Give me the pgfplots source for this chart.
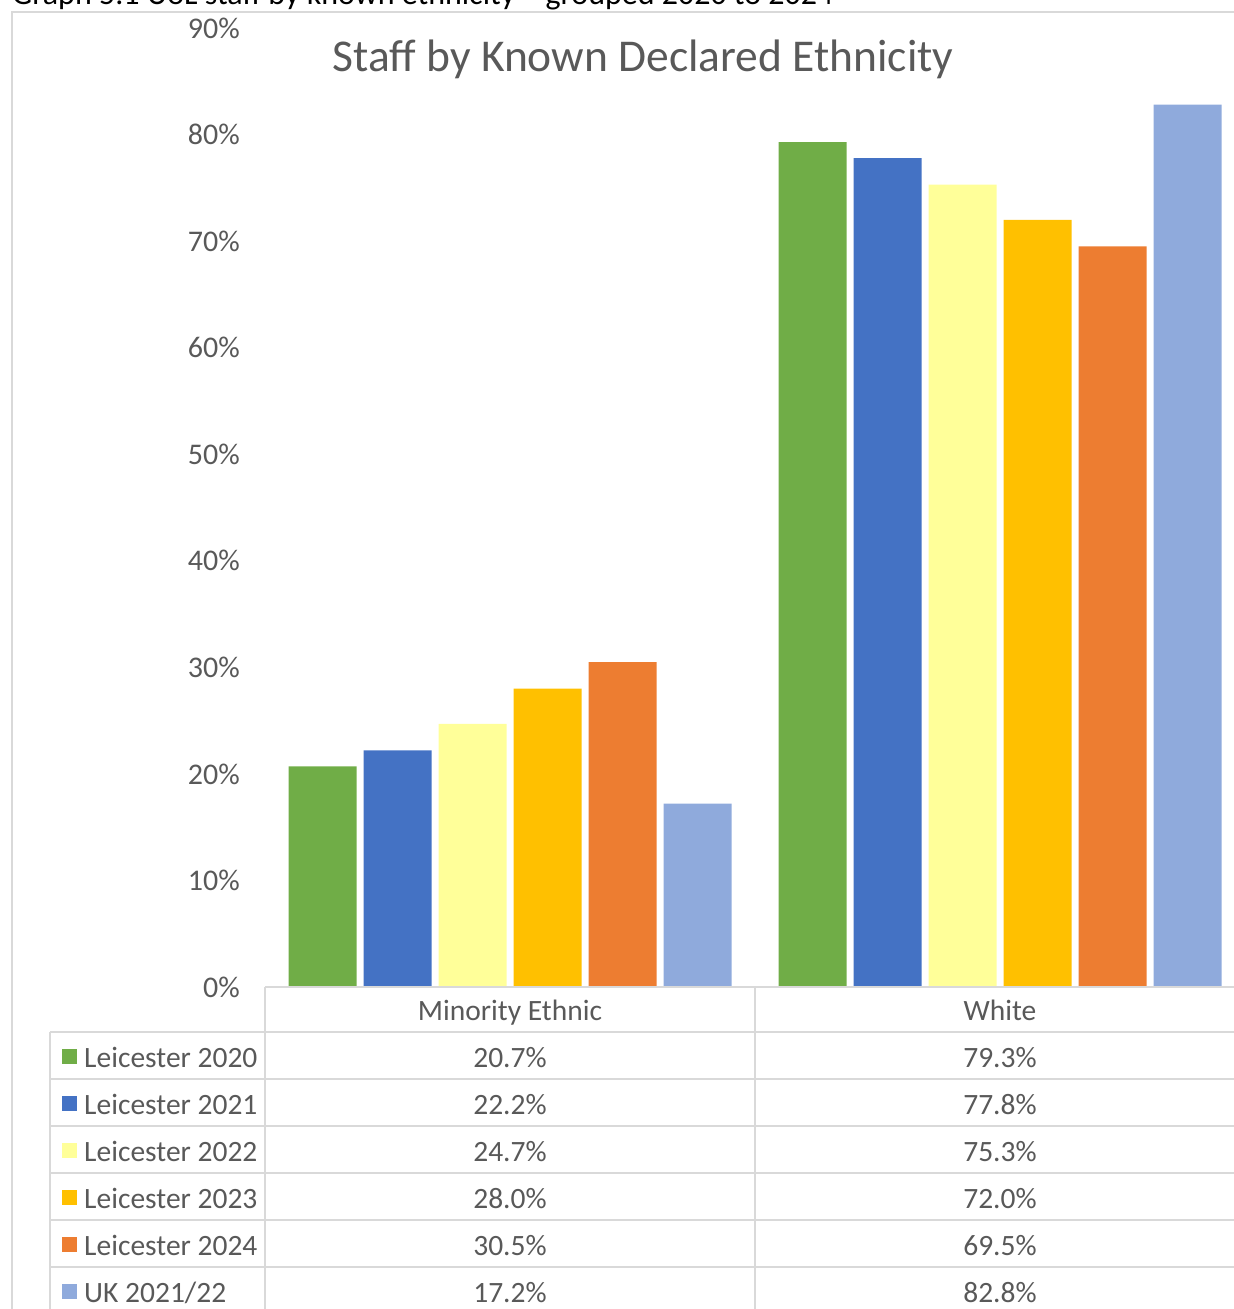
\documentclass[border=0pt]{standalone}
\usepackage{pgfplots}
\pgfplotsset{compat=1.18}
\usepackage{pgfplotstable}
\usepackage{fontspec}
\setmainfont{Carlito}
\definecolor{cgreen}{HTML}{70AD47}
\definecolor{cblue}{HTML}{4472C4}
\definecolor{cyellow}{HTML}{FFFF99}
\definecolor{cgold}{HTML}{FFC000}
\definecolor{corange}{HTML}{ED7D31}
\definecolor{clight}{HTML}{8FAADC}
\definecolor{textgray}{HTML}{595959}
\definecolor{linegray}{HTML}{D9D9D9}
\pgfplotstableread{
x  L2020 L2021 L2022 L2023 L2024 UK
0  20.7  22.2  24.7  28.0  30.5  17.2
1  79.3  77.8  75.3  72.0  69.5  82.8
}\datatable
\newcommand{\tf}{\fontsize{29.5}{34}\selectfont}
\begin{document}
\begin{tikzpicture}
\useasboundingbox (0,0) rectangle (1234pt,-1309pt);
\clip (0,0) rectangle (1234pt,-1309pt);
\begin{scope}[x=1pt,y=-1pt]
% caption (cut off at top)
\node[anchor=base west, inner sep=0pt, font=\fontsize{32}{36}\selectfont, text=black] at (12,5) {Graph 5.1 UoL staff by known ethnicity – grouped 2020 to 2024};
% chart border
\draw[linegray, line width=2.5pt] (12,1320) -- (12,12) -- (1250,12);
% title
\node[font=\fontsize{45.5}{52}\selectfont, text=textgray] at (643,59) {Staff by Known Declared Ethnicity};
\end{scope}
\begin{axis}[at={(265pt,-987pt)}, anchor=south west, scale only axis,
  width=980pt, height=959pt, xmin=-0.5, xmax=1.5, ymin=0, ymax=90,
  ybar=7pt, bar width=68pt, axis line style={draw=none},
  ytick={0,10,...,90}, yticklabel={\pgfmathprintnumber{\tick}\%},
  /pgf/number format/assume math mode=true,
  major tick length=0pt, xtick=\empty,
  yticklabel style={font=\fontsize{30}{34}\selectfont, text=textgray, anchor=east, inner sep=0pt, xshift=-25pt},
  clip=false]
\addplot[fill=cgreen, draw=none] table[x=x, y=L2020] {\datatable};
\addplot[fill=cblue, draw=none] table[x=x, y=L2021] {\datatable};
\addplot[fill=cyellow, draw=none] table[x=x, y=L2022] {\datatable};
\addplot[fill=cgold, draw=none] table[x=x, y=L2023] {\datatable};
\addplot[fill=corange, draw=none] table[x=x, y=L2024] {\datatable};
\addplot[fill=clight, draw=none] table[x=x, y=UK] {\datatable};
\end{axis}
\begin{scope}[x=1pt,y=-1pt]
% data table grid
\draw[linegray, line width=2.5pt] (265,987) -- (1250,987);
\foreach \yy in {1032,1079,1126,1173,1220,1267} {\draw[linegray, line width=2.5pt] (50,\yy) -- (1250,\yy);}
\draw[linegray, line width=2.5pt] (50,1032) -- (50,1320);
\draw[linegray, line width=2.5pt] (265,987) -- (265,1320);
\draw[linegray, line width=2.5pt] (755,987) -- (755,1320);
\node[font=\tf, text=textgray, anchor=base] at (510,1020) {Minority Ethnic};
\node[font=\tf, text=textgray, anchor=base] at (1000,1020) {White};
\foreach \yy/\col/\lab/\a/\b in {1067/cgreen/{Leicester 2020}/20.7/79.3, 1114/cblue/{Leicester 2021}/22.2/77.8, 1161/cyellow/{Leicester 2022}/24.7/75.3, 1208/cgold/{Leicester 2023}/28.0/72.0, 1255/corange/{Leicester 2024}/30.5/69.5, 1302/clight/{UK 2021/22}/17.2/82.8} {
  \fill[\col] (62,\yy-18.5) rectangle (77,\yy-3.5);
  \node[font=\tf, text=textgray, anchor=base west, inner sep=0pt] at (84,\yy) {\lab};
  \node[font=\tf, text=textgray, anchor=base] at (510,\yy) {\a\%};
  \node[font=\tf, text=textgray, anchor=base] at (1000,\yy) {\b\%};
}
\end{scope}
\end{tikzpicture}
\end{document}
